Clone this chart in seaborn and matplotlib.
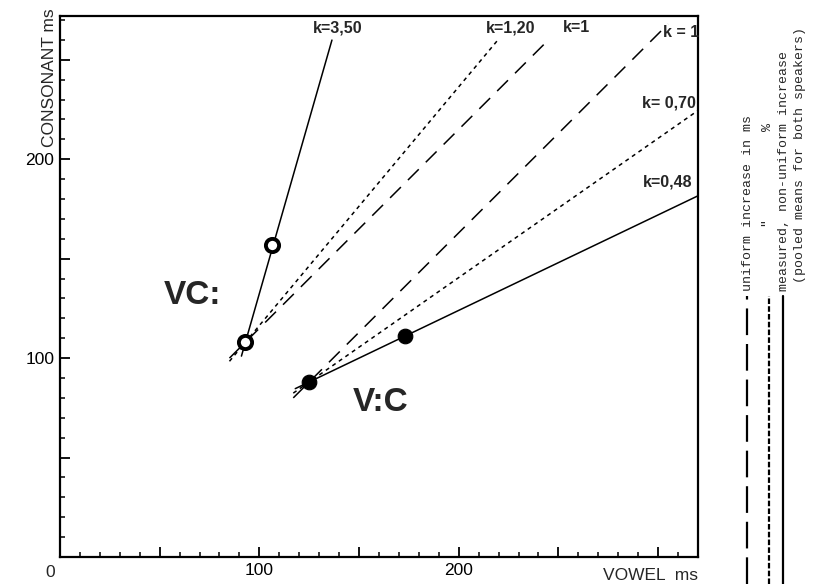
import numpy as np
import pandas as pd
import seaborn as sns
import matplotlib.pyplot as plt
from matplotlib.ticker import MultipleLocator, FuncFormatter

# starting durations (vowel ms, consonant ms)
vc_base = (93, 108)
vlc_base = (125, 88)

# measured pooled means
vc_vowel = [93, 106.5]
vc_cons = [108, 157]
vlc_vowel = [125, 173]
vlc_cons = [88, 111]

# the k lines: group, slope, kind, vowel range drawn
line_group = ['VC', 'VC', 'VC', 'V:C', 'V:C', 'V:C']
line_k = [3.50, 1.20, 1.0, 1.0, 0.70, 0.48]
line_kind = ['measured', 'percent', 'ms', 'ms', 'percent', 'measured']
line_v0 = [91, 85, 85, 117, 117, 118]
line_v1 = [136.4, 219.5, 245, 305, 320, 320]
k_labels = ['k=3,50', 'k=1,20', 'k=1', 'k = 1', 'k= 0,70', 'k=0,48']

sns.set_theme(style="ticks")
plt.rcParams['font.family'] = ['Liberation Sans', 'DejaVu Sans']

fig = plt.figure(figsize=(8.28, 5.84), dpi=100)
ax = fig.add_axes([60/828, 27/584, 638/828, 541/584])

styles = {'measured': '-', 'percent': (0, (2.6, 2.6)), 'ms': (0, (10, 6.5))}
bases = {'VC': vc_base, 'V:C': vlc_base}

for g, k, kind, a, b in zip(line_group, line_k, line_kind, line_v0, line_v1):
    v0, c0 = bases[g]
    v = np.array([a, b])
    df = pd.DataFrame({'vowel': v, 'cons': c0 + k*(v - v0)})
    sns.lineplot(data=df, x='vowel', y='cons', ax=ax, color='black',
                 lw=1.1, linestyle=styles[kind])

sns.scatterplot(x=vc_vowel, y=vc_cons, ax=ax, s=90, color='white',
                edgecolor='black', linewidth=2.8, zorder=5)
sns.scatterplot(x=vlc_vowel, y=vlc_cons, ax=ax, s=110, color='black',
                edgecolor='black', zorder=5)

# k labels
lab_pos = [(139.5, 266), (226, 266), (259, 266), (311.5, 263.5), (305.5, 228.5), (305, 188.5)]
for t, (x, y) in zip(k_labels, lab_pos):
    ax.text(x, y, t, ha='center', va='center', fontsize=11.5, fontweight='bold')

ax.text(66.5, 131.5, 'VC:', ha='center', va='center', fontsize=24, fontweight='bold')
ax.text(161, 77.5, 'V:C', ha='center', va='center', fontsize=24, fontweight='bold')

ax.set_xlim(0, 320)
ax.set_ylim(0, 272)
ax.xaxis.set_major_locator(MultipleLocator(50))
ax.xaxis.set_minor_locator(MultipleLocator(10))
ax.yaxis.set_major_locator(MultipleLocator(50))
ax.yaxis.set_minor_locator(MultipleLocator(10))
only = FuncFormatter(lambda v, p: f'{int(v)}' if v in (100, 200) else '')
ax.xaxis.set_major_formatter(only)
ax.yaxis.set_major_formatter(only)
ax.tick_params(which='both', direction='in', colors='black', labelsize=12.5, pad=4)
ax.tick_params(which='major', length=7, width=1.3)
ax.tick_params(which='minor', length=3.5, width=1.1)
for s in ax.spines.values():
    s.set_visible(True)
    s.set_linewidth(1.6)
    s.set_color('black')
ax.set_xlabel('')
ax.set_ylabel('')

ax.annotate('0', (0, 0), xytext=(-7, -11), textcoords='offset points',
            ha='center', va='center', fontsize=12.5)
ax.text(1.0, -0.02, 'VOWEL  ms', transform=ax.transAxes, ha='right', va='top', fontsize=12.5)
ax.text(-0.016, 1.015, 'CONSONANT ms', transform=ax.transAxes, rotation=90,
        ha='center', va='top', fontsize=12.5)

# legend at the right, drawn in pixel space
lax = fig.add_axes([700/828, 0, 128/828, 1])
lax.set_xlim(700, 828)
lax.set_ylim(584, 0)
lax.axis('off')
lax.plot([747, 747], [584, 296], color='black', lw=1.6, linestyle=(0, (12, 4)))
lax.plot([769, 769], [584, 296], color='black', lw=1.6, linestyle=(0, (2.5, 1)))
lax.plot([783, 783], [584, 296], color='black', lw=1.6)
legend_lines = ['uniform increase in ms',
                '        "           %',
                'measured, non-uniform increase',
                ' (pooled means for both speakers)']
for t, x in zip(legend_lines, [748, 768, 784, 800]):
    lax.text(x, 291, t, rotation=90, ha='center', va='bottom', fontsize=9.5,
             family=['Liberation Mono', 'DejaVu Sans Mono'])

fig.savefig('out.png', dpi=100)
